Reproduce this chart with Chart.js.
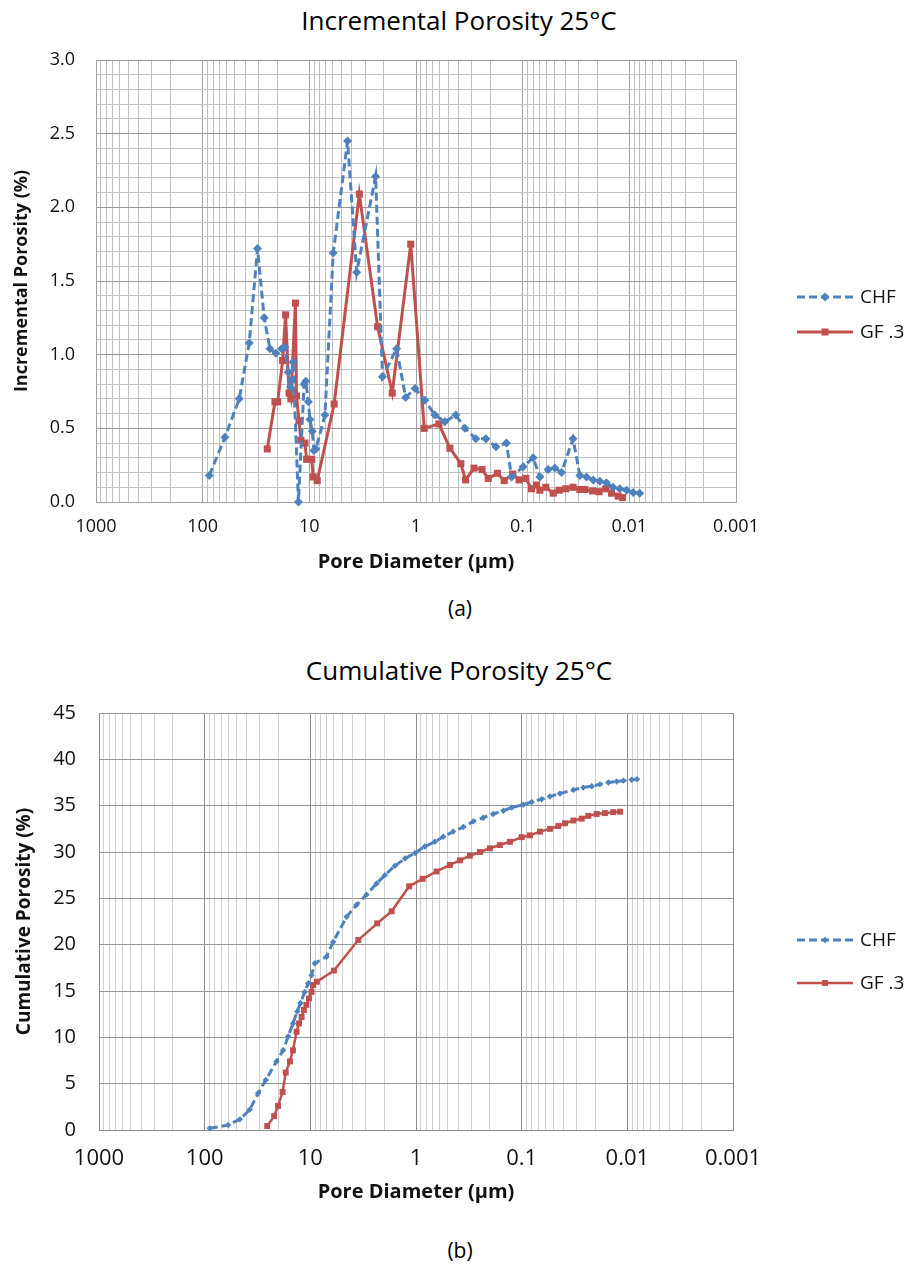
<!DOCTYPE html>
<html>
<head>
<meta charset="utf-8">
<script src="https://cdn.jsdelivr.net/npm/chart.js@4"></script>
<style>
  body { margin: 0; background: #fff; width: 911px; height: 1265px; position: relative; overflow: hidden; font-family: 'Open Sans', sans-serif; color: #000; }
  canvas { position: absolute; left: 0; }
  .txt { position: absolute; left: 0; width: 918px; text-align: center; line-height: 30px; white-space: nowrap; }
</style>
</head>
<body>
<div class="txt" style="top:5px;font-size:26px;">Incremental Porosity 25°C</div>
<canvas id="incChart" width="911" height="590" style="top:0"></canvas>
<div class="txt" style="top:593px;font-size:21px;width:920px;">(a)</div>
<div class="txt" style="top:655px;font-size:26px;">Cumulative Porosity 25°C</div>
<canvas id="cumChart" width="911" height="590" style="top:630px"></canvas>
<div class="txt" style="top:1235px;font-size:21px;width:920px;">(b)</div>
<script>
// pore diameter (µm) and porosity (%)
const chfIncDiameter = [86.7, 61.8, 45.4, 36.6, 30.6, 26.5, 23.4, 20.6, 18.2, 16.9, 15.8, 15.0, 14.2, 12.65, 11.2, 10.8, 10.2, 9.87, 9.39, 9.06, 8.67, 7.14, 5.97, 4.38, 3.6, 2.39, 2.06, 1.52, 1.25, 1.02, 0.826, 0.665, 0.536, 0.423, 0.348, 0.275, 0.221, 0.178, 0.142, 0.127, 0.0989, 0.0798, 0.069, 0.0577, 0.0499, 0.0432, 0.0337, 0.0291, 0.0252, 0.0218, 0.0189, 0.0164, 0.0142, 0.0123, 0.0106, 0.0092, 0.0080];
const chfInc = [0.18, 0.44, 0.70, 1.08, 1.72, 1.25, 1.04, 1.01, 1.04, 1.05, 0.88, 0.78, 0.95, 0.00, 0.80, 0.82, 0.68, 0.56, 0.48, 0.35, 0.36, 0.59, 1.69, 2.45, 1.56, 2.21, 0.85, 1.04, 0.71, 0.77, 0.69, 0.59, 0.545, 0.59, 0.50, 0.43, 0.43, 0.375, 0.40, 0.17, 0.24, 0.30, 0.17, 0.22, 0.23, 0.20, 0.43, 0.18, 0.17, 0.15, 0.14, 0.13, 0.10, 0.09, 0.08, 0.065, 0.06];

const gfIncDiameter = [24.8, 21.0, 19.8, 17.8, 16.7, 15.5, 14.9, 13.5, 13.2, 12.5, 12.0, 11.0, 10.6, 9.5, 9.2, 8.43, 5.85, 3.40, 2.29, 1.67, 1.12, 0.837, 0.61, 0.481, 0.38, 0.343, 0.286, 0.24, 0.21, 0.172, 0.149, 0.124, 0.108, 0.0933, 0.0826, 0.0741, 0.069, 0.0607, 0.0518, 0.0455, 0.0394, 0.0337, 0.0291, 0.0261, 0.0221, 0.0192, 0.0166, 0.0147, 0.0127, 0.0116];
const gfInc = [0.36, 0.68, 0.68, 0.96, 1.27, 0.74, 0.70, 1.35, 0.72, 0.55, 0.42, 0.40, 0.29, 0.29, 0.17, 0.145, 0.665, 2.09, 1.19, 0.74, 1.75, 0.50, 0.53, 0.365, 0.26, 0.15, 0.23, 0.22, 0.16, 0.195, 0.145, 0.19, 0.15, 0.16, 0.09, 0.115, 0.08, 0.10, 0.06, 0.08, 0.09, 0.10, 0.085, 0.085, 0.075, 0.07, 0.09, 0.06, 0.04, 0.03];

const chfCumDiameter = [89.5, 60.0, 46.5, 37.4, 31.2, 26.4, 20.9, 18.1, 16.2, 14.6, 13.3, 12.4, 11.3, 10.5, 9.75, 9.06, 7.03, 6.08, 4.54, 3.65, 2.94, 2.36, 1.97, 1.585, 1.27, 1.02, 0.824, 0.663, 0.552, 0.445, 0.357, 0.287, 0.231, 0.186, 0.149, 0.124, 0.0966, 0.0804, 0.0647, 0.054, 0.0434, 0.0324, 0.0261, 0.0217, 0.0182, 0.0151, 0.0126, 0.0109, 0.0091, 0.0081];
const chfCum = [0.18, 0.54, 1.15, 2.2, 3.96, 5.4, 7.4, 8.6, 10.1, 11.5, 12.8, 13.7, 14.9, 15.8, 16.7, 18.0, 18.7, 20.3, 23.0, 24.3, 25.4, 26.6, 27.5, 28.5, 29.3, 29.9, 30.6, 31.1, 31.65, 32.2, 32.7, 33.3, 33.7, 34.1, 34.45, 34.8, 35.1, 35.4, 35.7, 36.0, 36.3, 36.7, 36.95, 37.1, 37.3, 37.5, 37.6, 37.7, 37.8, 37.85];

const gfCumDiameter = [25.6, 22.0, 20.2, 18.3, 17.1, 15.6, 14.6, 13.5, 12.8, 12.1, 11.5, 10.9, 10.3, 9.75, 9.4, 8.67, 5.98, 3.52, 2.33, 1.70, 1.16, 0.865, 0.638, 0.477, 0.384, 0.309, 0.248, 0.2, 0.161, 0.129, 0.1, 0.0834, 0.0671, 0.054, 0.045, 0.0389, 0.0324, 0.027, 0.0234, 0.0195, 0.0163, 0.0136, 0.0117];
const gfCum = [0.43, 1.5, 2.6, 4.1, 6.2, 7.4, 8.6, 10.6, 11.5, 12.2, 12.95, 13.5, 14.2, 14.9, 15.65, 16.0, 17.2, 20.5, 22.3, 23.6, 26.3, 27.1, 27.9, 28.6, 29.1, 29.6, 30.0, 30.4, 30.75, 31.1, 31.6, 31.8, 32.2, 32.5, 32.8, 33.1, 33.4, 33.6, 33.9, 34.1, 34.2, 34.3, 34.35];

const seriesNames = ['CHF', 'GF .3'];
const xDecades = [1000, 100, 10, 1, 0.1, 0.01, 0.001];
const xTickLabels = ['1000', '100', '10', '1', '0.1', '0.01', '0.001'];
const incYTicks = [0, 0.5, 1.0, 1.5, 2.0, 2.5, 3.0];
const cumYTicks = [0, 5, 10, 15, 20, 25, 30, 35, 40, 45];

const BLUE = '#4F81BD';
const RED = '#C0504D';

Chart.defaults.font.family = "'Open Sans', sans-serif";
Chart.defaults.color = '#111';

function points(xs, ys) {
  return xs.map((x, i) => ({ x: x, y: ys[i] }));
}

// gridline values: 1..9 per decade
function logGridValues() {
  const vals = [];
  for (let e = -3; e < 3; e++) {
    for (let m = 1; m < 10; m++) vals.push(+(m * Math.pow(10, e)).toPrecision(2));
  }
  vals.push(1000);
  return vals;
}

function isDecade(v) {
  const l = Math.log10(v);
  return Math.abs(l - Math.round(l)) < 1e-6;
}

function drawMarker(ctx, style, x, y, r) {
  ctx.beginPath();
  if (style === 'rectRot') {
    ctx.moveTo(x, y - r); ctx.lineTo(x + r, y); ctx.lineTo(x, y + r); ctx.lineTo(x - r, y);
  } else {
    const s = r * Math.SQRT1_2;
    ctx.rect(x - s, y - s, 2 * s, 2 * s);
  }
  ctx.closePath();
  ctx.fill();
}

const sideLegend = {
  id: 'sideLegend',
  afterDraw(chart, args, opts) {
    const ctx = chart.ctx;
    chart.data.datasets.forEach((ds, i) => {
      const y = opts.top + i * opts.gap;
      ctx.save();
      ctx.strokeStyle = ds.borderColor;
      ctx.lineWidth = ds.borderWidth;
      ctx.setLineDash(ds.borderDash || []);
      ctx.beginPath();
      ctx.moveTo(opts.x, y);
      ctx.lineTo(opts.x + opts.lineLen, y);
      ctx.stroke();
      ctx.setLineDash([]);
      ctx.fillStyle = ds.borderColor;
      drawMarker(ctx, ds.pointStyle, opts.x + opts.lineLen / 2, y, ds.pointRadius);
      ctx.fillStyle = '#111';
      ctx.font = opts.fontSize + "px 'Open Sans', sans-serif";
      ctx.textBaseline = 'middle';
      ctx.textAlign = 'left';
      ctx.fillText(ds.label, opts.x + opts.lineLen + 7, y + 1);
      ctx.restore();
    });
  }
};

function makeChart(id, cfg) {
  const gridX = logGridValues();
  return new Chart(document.getElementById(id), {
    type: 'scatter',
    data: {
      datasets: [
        {
          label: seriesNames[0],
          data: points(cfg.chfX, cfg.chfY),
          showLine: true,
          borderColor: BLUE,
          backgroundColor: BLUE,
          borderWidth: 3,
          borderDash: [8, 4],
          pointStyle: 'rectRot',
          pointRadius: cfg.chfR,
          pointBorderWidth: 0,
          tension: 0,
          clip: false
        },
        {
          label: seriesNames[1],
          data: points(cfg.gfX, cfg.gfY),
          showLine: true,
          borderColor: RED,
          backgroundColor: RED,
          borderWidth: cfg.gfW,
          pointStyle: 'rect',
          pointRadius: cfg.gfR,
          pointBorderWidth: 0,
          tension: 0,
          clip: false
        }
      ]
    },
    options: {
      responsive: false,
      animation: false,
      events: [],
      layout: { padding: { left: 0, right: cfg.padRight, top: cfg.padTop, bottom: 0 } },
      plugins: {
        legend: { display: false },
        tooltip: { enabled: false },
        sideLegend: cfg.legend
      },
      scales: {
        x: {
          type: 'logarithmic',
          reverse: true,
          min: 0.001,
          max: 1000,
          afterBuildTicks: (scale) => { scale.ticks = gridX.map(v => ({ value: v })); },
          afterFit: (scale) => { scale.height = cfg.xAxisHeight; },
          ticks: {
            autoSkip: false,
            maxRotation: 0,
            padding: cfg.xTickPad,
            font: { size: cfg.xTickSize },
            callback: (v) => { const i = xDecades.indexOf(v); return i >= 0 ? xTickLabels[i] : ''; }
          },
          grid: {
            drawTicks: false,
            color: (c) => (c.tick && isDecade(c.tick.value)) ? cfg.majorV : cfg.minorV,
            lineWidth: 1
          },
          border: { color: cfg.borderColor },
          title: {
            display: true,
            text: 'Pore Diameter (µm)',
            font: { size: cfg.xTitleSize, weight: 'bold' },
            padding: { top: 0, bottom: cfg.xTitlePad }
          }
        },
        y: {
          min: 0,
          max: cfg.yMax,
          afterBuildTicks: (scale) => { scale.ticks = cfg.yGrid.map(v => ({ value: v })); },
          afterFit: (scale) => { scale.width = cfg.yAxisWidth; },
          ticks: {
            autoSkip: false,
            padding: cfg.yTickPad,
            font: { size: cfg.yTickSize },
            callback: cfg.yLabel
          },
          grid: {
            drawTicks: false,
            color: (c) => (c.tick && cfg.yTicks.indexOf(c.tick.value) >= 0) ? cfg.majorH : cfg.minorH,
            lineWidth: 1
          },
          border: { color: cfg.borderColor },
          title: {
            display: true,
            text: cfg.yTitle,
            font: { size: cfg.yTitleSize, weight: 'bold' },
            padding: { top: cfg.yTitlePad, bottom: 0 }
          }
        }
      }
    },
    plugins: [sideLegend]
  });
}

const incGrid = [];
for (let i = 0; i <= 30; i++) incGrid.push(+(i * 0.1).toFixed(1));

makeChart('incChart', {
  chfX: chfIncDiameter, chfY: chfInc, gfX: gfIncDiameter, gfY: gfInc,
  chfR: 4.5, gfR: 5, gfW: 3,
  padRight: 175, padTop: 60,
  xAxisHeight: 88, xTickPad: 14, xTickSize: 18, xTitleSize: 20, xTitlePad: 16,
  yMax: 3, yGrid: incGrid, yTicks: incYTicks, yAxisWidth: 96, yTickPad: 21, yTickSize: 18,
  yLabel: (v) => incYTicks.indexOf(v) >= 0 ? v.toFixed(1) : '',
  yTitle: 'Incremental Porosity (%)', yTitleSize: 18, yTitlePad: 11,
  majorV: '#a0a0a0', minorV: '#bfbfbf', majorH: '#999999', minorH: '#c2c2c2', borderColor: '#a0a0a0',
  legend: { x: 797, top: 297, gap: 35, lineLen: 56, fontSize: 19 }
});

makeChart('cumChart', {
  chfX: chfCumDiameter, chfY: chfCum, gfX: gfCumDiameter, gfY: gfCum,
  chfR: 3.2, gfR: 4.2, gfW: 2.5,
  padRight: 178, padTop: 83,
  xAxisHeight: 90, xTickPad: 16, xTickSize: 22, xTitleSize: 20, xTitlePad: 16,
  yMax: 45, yGrid: cumYTicks, yTicks: cumYTicks, yAxisWidth: 99, yTickPad: 23, yTickSize: 20,
  yLabel: (v) => String(v),
  yTitle: 'Cumulative Porosity (%)', yTitleSize: 19, yTitlePad: 13,
  majorV: '#8c8c8c', minorV: '#d0d0d0', majorH: '#999999', minorH: '#d0d0d0', borderColor: '#8c8c8c',
  legend: { x: 797, top: 940 - 630, gap: 43, lineLen: 56, fontSize: 19 }
});
</script>
</body>
</html>
